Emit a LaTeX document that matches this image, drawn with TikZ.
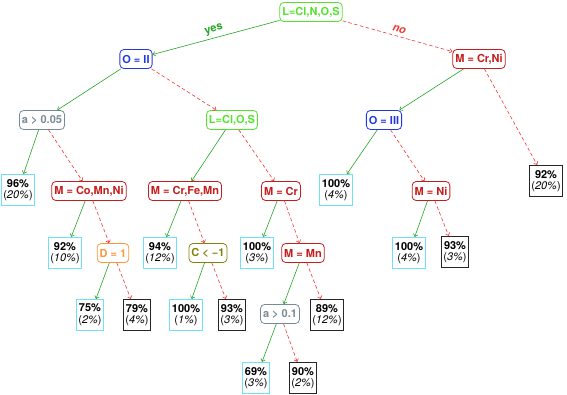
\documentclass[tikz,border=0pt]{standalone}
\usepackage{fontspec}
\setmainfont{TeX Gyre Heros}
\usepackage{xcolor}
\usepackage{tikz}
\usetikzlibrary{arrows.meta}
\definecolor{trlime}{RGB}{85,225,45}
\definecolor{trblue}{RGB}{35,55,225}
\definecolor{trred}{RGB}{195,30,30}
\definecolor{trgray}{RGB}{120,138,150}
\definecolor{trorange}{RGB}{250,150,60}
\definecolor{trolive}{RGB}{130,130,10}
\definecolor{trcyan}{RGB}{110,225,250}
\definecolor{tryes}{RGB}{35,165,35}
\definecolor{trno}{RGB}{240,55,55}
\newcommand{\trsize}{\fontsize{11}{11.5}\selectfont}

\begin{document}
\begin{tikzpicture}[x=1pt, y=-1pt,
      split/.style={draw=#1, text=#1, thick, rounded corners=4pt, font=\trsize\bfseries,
        inner xsep=2.5pt, minimum height=19pt},
      leaf/.style={draw=#1, line width=1.1pt, align=center, inner xsep=2pt,
        minimum height=31pt, font=\trsize},
      yesedge/.style={draw=tryes, semithick, -{Straight Barb[length=2.5pt,width=4.5pt]}},
      noedge/.style={draw=trno, semithick, dash pattern=on 3.5pt off 2.5pt,
        -{Straight Barb[length=2.5pt,width=4.5pt]}}]
    \useasboundingbox (0,0) rectangle (567,394);
    % split nodes
    \node[split=trlime] (root) at (311,12) {L=Cl,N,O,S};
    \node[split=trblue] (oII) at (136,59) {O = II};
    \node[split=trred] (mCrNi) at (479,59) {M = Cr,Ni};
    \node[split=trgray] (a005) at (42,120) {a > 0.05};
    \node[split=trlime] (lClOS) at (232,120) {L=Cl,O,S};
    \node[split=trblue] (oIII) at (384,120) {O = III};
    \node[split=trred] (mCoMnNi) at (89,191) {M = Co,Mn,Ni};
    \node[split=trred] (mCrFeMn) at (185,191) {M = Cr,Fe,Mn};
    \node[split=trred] (mCr) at (281,191) {M = Cr};
    \node[split=trred] (mNi) at (431,191) {M = Ni};
    \node[split=trorange] (d1) at (113,253) {D = 1};
    \node[split=trolive] (cm1) at (208,253) {C < −1};
    \node[split=trred] (mMn) at (303,253) {M = Mn};
    \node[split=trgray] (a01) at (280,314) {a > 0.1};
    % leaves
    \node[leaf=trcyan] (l96) at (18,190) {\textbf{96\%}\\(\textit{20\%})};
    \node[leaf=trcyan] (l100a) at (336,190) {\textbf{100\%}\\(\textit{4\%})};
    \node[leaf=black!85] (l92b) at (546,181) {\textbf{92\%}\\(\textit{20\%})};
    \node[leaf=trcyan] (l92a) at (65,253) {\textbf{92\%}\\(\textit{10\%})};
    \node[leaf=trcyan] (l94) at (160,253) {\textbf{94\%}\\(\textit{12\%})};
    \node[leaf=trcyan] (l100c) at (257,253) {\textbf{100\%}\\(\textit{3\%})};
    \node[leaf=trcyan] (l100d) at (409,253) {\textbf{100\%}\\(\textit{4\%})};
    \node[leaf=black!85] (l93b) at (455,252) {\textbf{93\%}\\(\textit{3\%})};
    \node[leaf=trcyan] (l75) at (90,315) {\textbf{75\%}\\(\textit{2\%})};
    \node[leaf=black!85] (l79) at (137,315) {\textbf{79\%}\\(\textit{4\%})};
    \node[leaf=trcyan] (l100b) at (186,315) {\textbf{100\%}\\(\textit{1\%})};
    \node[leaf=black!85] (l93a) at (232,315) {\textbf{93\%}\\(\textit{3\%})};
    \node[leaf=black!85] (l89) at (327,315) {\textbf{89\%}\\(\textit{12\%})};
    \node[leaf=trcyan] (l69) at (256,378) {\textbf{69\%}\\(\textit{3\%})};
    \node[leaf=black!85] (l90) at (303,378) {\textbf{90\%}\\(\textit{2\%})};
    % branches
    \draw[yesedge] (root) -- node[midway, above, sloped, text=tryes, font=\trsize\bfseries] {yes} (oII);
    \draw[noedge] (root) -- node[midway, above, sloped, text=trno, font=\trsize\bfseries\itshape] {no} (mCrNi);
    \foreach \p/\c in {oII/a005, a005/l96, mCoMnNi/l92a, d1/l75, lClOS/mCrFeMn, mCrFeMn/l94,
        cm1/l100b, mCr/l100c, mMn/a01, a01/l69, mCrNi/oIII, oIII/l100a, mNi/l100d}
      \draw[yesedge] (\p) -- (\c);
    \foreach \p/\c in {oII/lClOS, a005/mCoMnNi, mCoMnNi/d1, d1/l79, mCrFeMn/cm1, cm1/l93a,
        lClOS/mCr, mCr/mMn, mMn/l89, a01/l90, mCrNi/l92b, oIII/mNi, mNi/l93b}
      \draw[noedge] (\p) -- (\c);
  \end{tikzpicture}
\end{document}
